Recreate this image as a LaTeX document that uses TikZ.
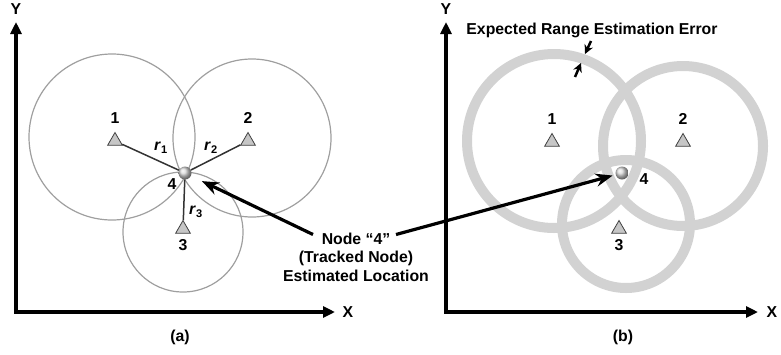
\documentclass[tikz,border=0pt]{standalone}
\usepackage{fontspec}
\setmainfont{Liberation Sans}
\usetikzlibrary{shapes.geometric, arrows.meta, positioning}

\begin{document}
\begin{tikzpicture}[
  x=1pt, y=-1pt,
  font=\fontsize{15.8}{18.5}\selectfont\bfseries,
  axis/.style={{Triangle[length=12pt,width=11pt]}-{Triangle[length=12pt,width=11pt]},
               line width=4pt, line join=miter},
  anchorpt/.style={regular polygon, regular polygon sides=3, minimum size=17pt,
                   inner sep=0pt, fill=gray!45, draw=black!75, line width=0.8pt},
  tracked/.style={circle, minimum size=13pt, inner sep=0pt, ball color=gray!30},
  lbl/.style={inner sep=0pt},
  rangecirc/.style={draw=gray!75, line width=1.2pt},
  ring/.style={draw=gray!35, line width=10pt},
  spoke/.style={draw=black!80, line width=1.5pt},
  bigarr/.style={-{Stealth[length=17pt,width=13pt]}, line width=3.2pt},
  errarr/.style={-{Stealth[length=9pt,width=9pt]}, line width=2.5pt},
]
\useasboundingbox (0,0) rectangle (781,354);

%% ---------- Panel (a): axes ------------------------------------
\coordinate (oa) at (16,312);
\coordinate (ya) at (16,22);
\coordinate (xa) at (335,312);
\draw[axis] (ya) -- (oa) -- (xa);
\node[lbl] (ylaba) at (16,9)    {Y};
\node[lbl] (xlaba) at (348,312) {X};
\node[lbl] (capa)  at (180,337) {(a)};

%% ---------- Panel (a): range circles ----------------------------
\draw[rangecirc] (112,137) circle[radius=83pt];
\draw[rangecirc] (252,138) circle[radius=79pt];
\draw[rangecirc] (183,232) circle[radius=60pt];

%% ---------- Panel (a): anchors and tracked node -----------------
\node[anchorpt] (a1) at (115,141) {};
\node[anchorpt] (a2) at (248,141) {};
\node[anchorpt] (a3) at (183,229) {};
\node[tracked]  (a4) at (185,173) {};
\node[lbl, above=8pt of a1] (la1) {1};
\node[lbl, above=8pt of a2] (la2) {2};
\node[lbl, below=6pt of a3] (la3) {3};
\node[lbl] (la4) at (172,184) {4};

\draw[spoke] (a1) -- (a4);
\draw[spoke] (a2) -- (a4);
\draw[spoke] (a3) -- (a4);
\node[lbl] (r1) at (161,148) {\textit{r}\textsubscript{1}};
\node[lbl] (r2) at (211,148) {\textit{r}\textsubscript{2}};
\node[lbl] (r3) at (196,212) {\textit{r}\textsubscript{3}};

%% ---------- Panel (b): axes ------------------------------------
\coordinate (ob) at (446,312);
\coordinate (yb) at (446,22);
\coordinate (xb) at (758,312);
\draw[axis] (yb) -- (ob) -- (xb);
\node[lbl] (ylabb) at (446,9)   {Y};
\node[lbl] (xlabb) at (772,312) {X};
\node[lbl] (capb)  at (623,337) {(b)};

%% ---------- Panel (b): range rings -----------------------------
\draw[ring] (554,141) circle[radius=87pt];
\draw[ring] (683,146) circle[radius=80pt];
\draw[ring] (626,224) circle[radius=64pt];

%% ---------- Panel (b): anchors and tracked node -----------------
\node[anchorpt] (b1) at (552,142) {};
\node[anchorpt] (b2) at (683,142) {};
\node[anchorpt] (b3) at (619,229) {};
\node[tracked]  (b4) at (622,173) {};
\node[lbl, above=8pt of b1] (lb1) {1};
\node[lbl, above=8pt of b2] (lb2) {2};
\node[lbl, below=6pt of b3] (lb3) {3};
\node[lbl] (lb4) at (644,179) {4};

%% ring width marker
\node[lbl] (errlbl) at (592,30) {Expected Range Estimation Error};
\coordinate (eo) at (591,41);
\coordinate (eoh) at (585,54);
\coordinate (ei) at (575,77);
\coordinate (eih) at (581,63);
\draw[errarr] (eo) -- (eoh);
\draw[errarr] (ei) -- (eih);

%% ---------- Shared callout --------------------------------------
\node[align=center, inner sep=2pt] (loc) at (356,257)
      {Node “4”\\(Tracked Node)\\Estimated Location};
\draw[bigarr, shorten >=12pt] ([xshift=-43pt, yshift=-4pt]loc.north) -- (a4);
\draw[bigarr, shorten >=3pt]  ([xshift=40pt, yshift=-4pt]loc.north) -- (b4);
\end{tikzpicture}
\end{document}
